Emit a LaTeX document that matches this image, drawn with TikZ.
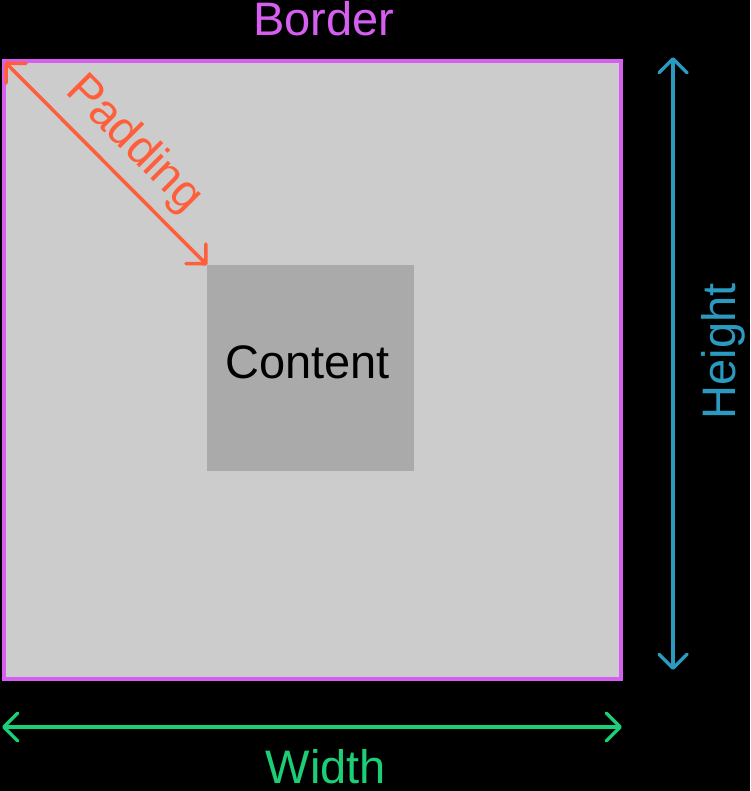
\documentclass[tikz,border=0pt]{standalone}
\usepackage{fontspec}
\setmainfont{Liberation Sans}
\usetikzlibrary{arrows.meta}
\definecolor{bordercol}{HTML}{D65EF0}
\definecolor{padcol}{HTML}{FF5E3A}
\definecolor{heightcol}{HTML}{2A9AC0}
\definecolor{widthcol}{HTML}{1CCE76}
\definecolor{outerfill}{HTML}{CCCCCC}
\definecolor{innerfill}{HTML}{AAAAAA}
\tikzset{
  bigfont/.style={font=\fontsize{47}{56}\selectfont},
  lbl/.style={bigfont, inner sep=0pt, anchor=base},
  barb/.tip={Straight Barb[length=14pt,width=28pt,line join=round,line cap=round]},
  dimline/.style={line width=3.5pt, line cap=round, barb-barb},
}
\begin{document}
\begin{tikzpicture}[x=1pt,y=-1pt]
\fill[black] (0,0) rectangle (750,791);
\useasboundingbox (0,0) rectangle (750,791);
% outer box with border
\node[draw=bordercol, line width=4pt, fill=outerfill, minimum width=617pt,
      minimum height=618pt, inner sep=0pt, anchor=north west] (box) at (2,59) {};
% content box
\node[fill=innerfill, minimum width=207pt, minimum height=206pt, inner sep=0pt,
      anchor=north west] (content) at (207,265) {};
\node[lbl] (contenttext) at (307.5,378) {Content};
% dimension end points
\coordinate (padstart) at (5,62);
\coordinate (htop) at (673,57);
\coordinate (hbot) at (673,670);
\coordinate (wleft) at (2,727);
\coordinate (wright) at (622,727);
% arrows
\draw[dimline, padcol] (padstart) -- (content.north west);
\draw[dimline, heightcol] (htop) -- (hbot);
\draw[dimline, widthcol] (wleft) -- (wright);
% labels
\node[lbl, text=bordercol] (bordertext) at (324,36) {Border};
\node[lbl, text=widthcol] (widthtext) at (326,783) {Width};
\node[lbl, text=heightcol, rotate=90] (heighttext) at (735,351.5) {Height};
\node[lbl, text=padcol, rotate=-45] (padtext) at (125,153) {Padding};
\end{tikzpicture}
\end{document}
